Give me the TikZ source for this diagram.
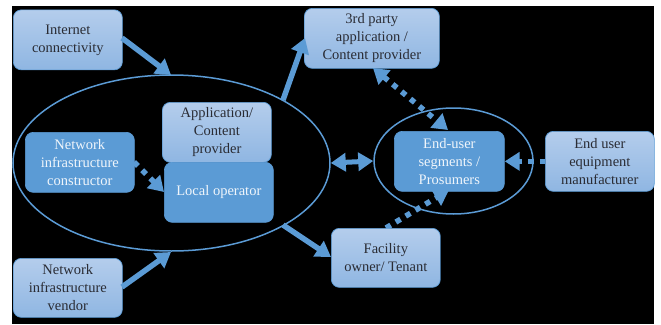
\documentclass[tikz,border=0pt]{standalone}
\usepackage{fontspec}
\setmainfont{Liberation Serif}
\usetikzlibrary{arrows.meta,calc,shapes.geometric,backgrounds}
\definecolor{boxblue}{HTML}{5B9BD5}
\definecolor{lighttop}{HTML}{B4CDEC}
\definecolor{lightbot}{HTML}{8FB6E2}
\definecolor{darktext}{HTML}{2A2C34}
\tikzset{
  x=1pt,y=-1pt,
  boxbase/.style={draw=boxblue,line width=0.7pt,rounded corners=8pt,align=center,inner sep=0pt,anchor=north west,font=\fontsize{14.5}{18}\selectfont},
  lightbox/.style={boxbase,top color=lighttop,bottom color=lightbot,text=darktext},
  darkbox/.style={boxbase,fill=boxblue,text=white!90!boxblue},
  ring/.style={draw=boxblue,line width=1.5pt,fill=none,shape=ellipse,inner sep=0pt},
  solidarrow/.style={draw=boxblue,line width=5.5pt,-{Triangle[length=15pt,width=18pt]}},
  dotarrow/.style={draw=boxblue,line width=5.5pt,dash pattern=on 5.5pt off 6pt,-{Triangle[length=15pt,width=18pt]}},
  dotboth/.style={draw=boxblue,line width=5.5pt,dash pattern=on 5.5pt off 6pt,{Triangle[length=15pt,width=18pt]}-{Triangle[length=15pt,width=18pt]}},
  solidboth/.style={draw=boxblue,line width=5pt,{Triangle[length=15pt,width=18pt]}-{Triangle[length=15pt,width=18pt]}},
}
\begin{document}
\begin{tikzpicture}
\useasboundingbox (0,0) rectangle (661,324);
% boxes
\node[lightbox,minimum width=109pt,minimum height=60pt] (inet) at (13,9.5) {Internet\\connectivity};
\node[lightbox,minimum width=135pt,minimum height=60pt] (third) at (304,8) {3rd party\\application /\\Content provider};
\node[lightbox,minimum width=109pt,minimum height=60pt] (app) at (162,102) {Application/\\Content\\provider};
\node[darkbox,minimum width=109pt,minimum height=60pt] (constr) at (25,132) {Network\\infrastructure\\constructor};
\node[darkbox,minimum width=109pt,minimum height=60pt] (local) at (164,162) {Local operator};
\node[darkbox,minimum width=110pt,minimum height=60pt] (seg) at (394,131) {End-user\\segments /\\Prosumers};
\node[lightbox,minimum width=109pt,minimum height=60pt] (equip) at (545,131) {End user\\equipment\\manufacturer};
\node[lightbox,minimum width=109pt,minimum height=59pt] (fac) at (331,228) {Facility\\owner/ Tenant};
\node[lightbox,minimum width=109pt,minimum height=59pt] (vend) at (13,258) {Network\\infrastructure\\vendor};
% rings
\node[ring,minimum width=317pt,minimum height=176pt] (big) at (171.5,163) {};
\node[ring,minimum width=159pt,minimum height=106pt] (small) at (453.5,161) {};
% connector ends
\coordinate (bigtopL) at (171,75);
\coordinate (bigbotL) at (171,252);
\coordinate (bigtopR) at (283,100);
\coordinate (bigbotR) at (283,225);
\coordinate (inetE) at (122,38);
\coordinate (vendE) at (122,287);
\coordinate (thirdW) at (305,38);
\coordinate (facW) at (331,257);
\coordinate (thirdS) at (373,68);
\coordinate (segN) at (448,130);
\coordinate (constrE) at (134,162);
\coordinate (localW) at (164,192);
\coordinate (facN) at (386,228);
\coordinate (segS) at (449,190);
\begin{scope}[on background layer]
\fill[white] (0,0) rectangle (661,324);
\fill[black] (12,6) rectangle (654,324);
\draw[dotarrow] (facN) -- (segS);
\end{scope}
% connectors
\draw[solidarrow] (inetE) -- (bigtopL);
\draw[solidarrow] (vendE) -- (bigbotL);
\draw[solidarrow] (bigtopR) -- (thirdW);
\draw[solidarrow] (bigbotR) -- (facW);
\draw[solidboth] (big.east) -- (small.west);
\draw[dotboth] (thirdS) -- (segN);
\draw[dotarrow] (constrE) -- (localW);
\draw[dotarrow] (equip.west) -- (seg.east);
\end{tikzpicture}
\end{document}
